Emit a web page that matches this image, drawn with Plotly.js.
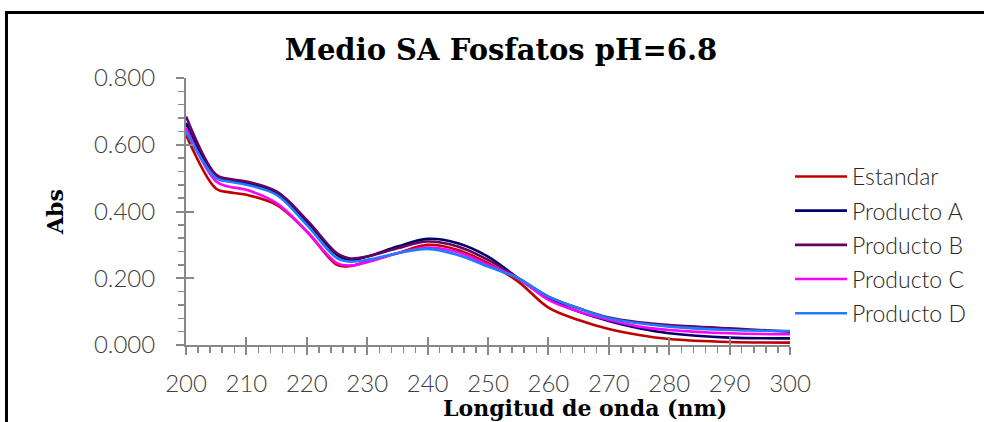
<!DOCTYPE html>
<html>
<head>
<meta charset="utf-8">
<script src="https://cdn.plot.ly/plotly-3.0.1.min.js"></script>
<style>html,body{margin:0;padding:0;background:#fff;}#chart{width:984px;height:422px;}</style>
</head>
<body>
<div id="chart"></div>
<script>
const wavelength = [200,205,207,210,215,220,225,227,230,235,240,245,250,255,260,265,270,275,280,290,300];
const estandar   = [0.630,0.468,0.458,0.450,0.420,0.340,0.240,0.236,0.250,0.275,0.300,0.285,0.245,0.190,0.112,0.075,0.048,0.030,0.018,0.009,0.007];
const productoA  = [0.665,0.505,0.495,0.485,0.455,0.370,0.270,0.255,0.265,0.295,0.318,0.305,0.265,0.200,0.140,0.100,0.072,0.050,0.035,0.022,0.020];
const productoB  = [0.685,0.510,0.498,0.490,0.460,0.375,0.275,0.260,0.265,0.290,0.310,0.295,0.255,0.200,0.145,0.110,0.082,0.068,0.060,0.050,0.040];
const productoC  = [0.650,0.490,0.475,0.465,0.425,0.340,0.245,0.238,0.248,0.275,0.292,0.278,0.240,0.200,0.135,0.100,0.075,0.055,0.045,0.035,0.032];
const productoD  = [0.640,0.500,0.490,0.480,0.450,0.360,0.260,0.250,0.255,0.275,0.288,0.270,0.235,0.200,0.145,0.110,0.080,0.065,0.055,0.045,0.042];
const seriesNames = ['Estandar','Producto A','Producto B','Producto C','Producto D'];
const seriesData = [estandar, productoA, productoB, productoC, productoD];
const seriesColors = ['#C00000','#000066','#660066','#FF00FF','#1F7BFF'];
const xTicks = [200,210,220,230,240,250,260,270,280,290,300];
const yTicks = [0,0.2,0.4,0.6,0.8];
const yTickText = ['0.000','0.200','0.400','0.600','0.800'];

const traces = seriesData.map((d,i)=>({
  x: wavelength, y: d, name: seriesNames[i], type:'scatter', mode:'lines',
  line:{color:seriesColors[i], width:2.6, shape:'spline', smoothing:1},
  legendgroup:'g'+i
}));

const tickFont = {family:'Lato, "Open Sans", sans-serif', size:24, color:'#404040', weight:300};
const serifBold = {family:'"DejaVu Serif", "Liberation Serif", serif', size:22, color:'#000', weight:'bold'};
const axColor = '#888888';

const layout = {
  width:984, height:422,
  margin:{l:186, r:194, t:78, b:77},
  paper_bgcolor:'#fff', plot_bgcolor:'#fff',
  showlegend:true,
  title:{text:'<b>Medio SA Fosfatos pH=6.8</b>', font:{family:'"DejaVu Serif", "Liberation Serif", serif', size:29, color:'#000'}, x:501/984, xanchor:'center', xref:'container', y:1-50/422, yanchor:'middle', yref:'container'},
  xaxis:{range:[200,300], tickvals:xTicks, ticktext:xTicks.map(String), showgrid:false, zeroline:false,
    showline:true, linecolor:axColor, linewidth:2, ticks:'outside', ticklen:8, tickwidth:2, tickcolor:axColor,
    ticklabelstandoff:8, tickfont:tickFont,
    minor:{dtick:2, ticks:'outside', ticklen:6, tickwidth:1.5, tickcolor:axColor, showgrid:false}},
  xaxis2:{range:[200,300], overlaying:'x', tickvals:xTicks, showticklabels:false, showgrid:false, zeroline:false,
    ticks:'inside', ticklen:8, tickwidth:2, tickcolor:axColor, showline:false},
  yaxis:{range:[0,0.8], tickvals:yTicks, ticktext:yTickText, showgrid:false, zeroline:false,
    showline:true, linecolor:axColor, linewidth:2, ticks:'outside', ticklen:8, tickwidth:2, tickcolor:axColor,
    ticklabelstandoff:16, tickfont:tickFont,
    minor:{dtick:0.04, ticks:'outside', ticklen:6, tickwidth:1.5, tickcolor:axColor, showgrid:false}},
  yaxis2:{range:[0,0.8], overlaying:'y', tickvals:yTicks, showticklabels:false, showgrid:false, zeroline:false,
    ticks:'inside', ticklen:8, tickwidth:2, tickcolor:axColor, showline:false},
  legend:{x:1.0, xanchor:'left', y:(345-155)/267, yanchor:'top', font:{family:'Lato, "Open Sans", sans-serif', size:23, color:'#262626', weight:300},
    bgcolor:'rgba(0,0,0,0)', itemwidth:52, tracegroupgap:1.3},
  shapes:[{type:'rect', xref:'paper', yref:'paper', x0:(6.5-186)/604, x1:(1100-186)/604, y0:(345-460)/267, y1:(345-12.5)/267,
    line:{color:'#000', width:3}, fillcolor:'rgba(0,0,0,0)', layer:'below'}],
  annotations:[
    {text:'<b>Abs</b>', xref:'paper', yref:'paper', x:(55-186)/604, y:(345-212)/267, showarrow:false, textangle:-90, font:serifBold, xanchor:'center', yanchor:'middle'},
    {text:'<b>Longitud de onda (nm)</b>', xref:'paper', yref:'paper', x:(585-186)/604, y:(345-408)/267, showarrow:false, font:serifBold, xanchor:'center', yanchor:'middle'}
  ]
};

// invisible trace to activate overlay axes for crossing tick marks
traces.push({x:[200], y:[0], xaxis:'x2', yaxis:'y2', mode:'markers', marker:{opacity:0}, showlegend:false, hoverinfo:'skip'});

Plotly.newPlot('chart', traces, layout, {displayModeBar:false, staticPlot:true});
</script>
</body>
</html>
